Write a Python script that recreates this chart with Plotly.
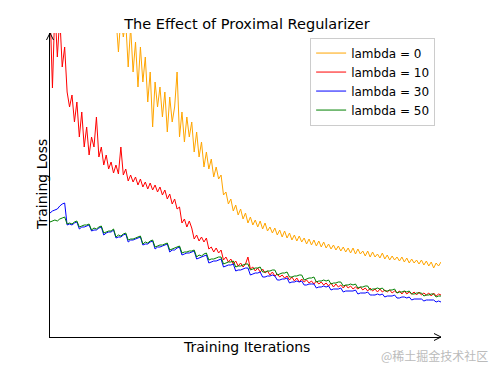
import plotly.graph_objects as go

step = 5
loss_lambda0 = [
    4.6, 4.5, 4.55, 4.4, 4.45, 4.3, 4.35, 4.2, 4.25, 4.1, 4.15, 4.0, 4.05, 3.9, 3.95, 3.8, 3.85, 3.7, 3.75, 3.6,
    3.65, 3.5, 3.55, 3.45, 3.4, 3.35, 3.3, 3.2,
    2.85, 3.2, 3.0, 3.15, 2.7, 3.1, 2.65, 2.95, 2.5, 2.9, 2.55, 2.8, 2.35, 2.65, 2.1, 2.55, 2.3, 2.5, 2.2, 2.45,
    2.05, 2.4, 2.15, 2.3, 2.65, 2.0, 2.25, 1.95, 2.2, 2.0, 2.15, 1.85, 2.05, 1.8, 1.95, 1.7, 1.85, 1.68, 1.78,
    1.6, 1.7, 1.58, 1.62, 1.42, 1.45, 1.33, 1.38, 1.26, 1.32, 1.22, 1.28, 1.18, 1.24, 1.14, 1.2, 1.12, 1.17,
    1.1, 1.16, 1.08, 1.14, 1.06, 1.1, 1.04, 1.09, 1.02, 1.07, 1.0, 1.06, 0.99, 1.04, 0.97, 1.02, 0.96, 1.01,
    0.95, 0.99, 0.93, 0.98, 0.92, 0.97, 0.91, 0.96, 0.9, 0.95, 0.89, 0.93, 0.88, 0.92, 0.87, 0.91, 0.86, 0.9,
    0.85, 0.89, 0.84, 0.89, 0.83, 0.88, 0.83, 0.86, 0.81, 0.86, 0.8, 0.85, 0.8, 0.83, 0.79, 0.84, 0.78, 0.82,
    0.77, 0.81, 0.77, 0.8, 0.76, 0.8, 0.75, 0.79, 0.74, 0.78, 0.74, 0.77, 0.73, 0.77, 0.72, 0.76, 0.71, 0.75,
    0.69, 0.74, 0.71, 0.75,
]
loss_lambda10 = [
    3.3, 2.49, 3.3, 2.8, 3.2, 2.7, 2.9, 2.45, 2.3, 2.42, 2.15, 2.35, 2.0, 2.25, 1.9, 2.1, 1.82, 2.0, 1.9, 2.2,
    1.8, 1.9, 1.72, 1.82, 1.68, 1.75, 1.64, 1.72, 1.63, 1.9, 1.62, 1.68, 1.56, 1.62, 1.55, 1.6, 1.52, 1.58,
    1.5, 1.55, 1.48, 1.54, 1.47, 1.52, 1.45, 1.5, 1.42, 1.47, 1.38, 1.43, 1.33, 1.38, 1.28, 1.3, 1.14, 1.18,
    1.1, 1.16, 1.09, 0.98, 1.02, 0.96, 1.0, 0.95, 0.99, 0.88, 0.9, 0.85, 0.89, 0.84, 0.87, 0.77, 0.8, 0.75,
    0.78, 0.73, 0.76, 0.71, 0.74, 0.7, 0.73, 0.8, 0.68, 0.7, 0.66, 0.69, 0.65, 0.68, 0.64, 0.66, 0.62, 0.65,
    0.61, 0.63, 0.6, 0.62, 0.59, 0.61, 0.57, 0.6, 0.56, 0.59, 0.55, 0.58, 0.55, 0.57, 0.54, 0.56, 0.53, 0.56,
    0.53, 0.55, 0.52, 0.54, 0.51, 0.54, 0.5, 0.53, 0.5, 0.52, 0.49, 0.52, 0.49, 0.51, 0.48, 0.5, 0.48, 0.5,
    0.47, 0.49, 0.46, 0.49, 0.46, 0.48, 0.45, 0.48, 0.45, 0.47, 0.45, 0.47, 0.44, 0.46, 0.44, 0.46, 0.43,
    0.46, 0.43, 0.45, 0.43, 0.45, 0.42, 0.45, 0.42, 0.44, 0.42, 0.44, 0.41, 0.44, 0.41, 0.43, 0.42,
]
loss_lambda30 = [
    1.24, 1.26, 1.27, 1.28, 1.31, 1.33, 1.34,
    1.12, 1.13, 1.12, 1.14, 1.15,
    1.08, 1.1, 1.1, 1.11, 1.12,
    1.06, 1.07, 1.07, 1.09, 1.1,
    1.02, 1.04, 1.05, 1.05, 1.07,
    0.99, 1.0, 1.0, 1.02, 1.03,
    0.95, 0.97, 0.97, 0.98, 0.99, 1.0,
    0.92, 0.93, 0.93, 0.95, 0.96,
    0.88, 0.9, 0.9, 0.91, 0.92, 0.93,
    0.85, 0.87, 0.87, 0.89, 0.9,
    0.82, 0.83, 0.84, 0.84, 0.85, 0.86,
    0.78, 0.79, 0.8, 0.81, 0.82,
    0.74, 0.75, 0.76, 0.76, 0.77, 0.78,
    0.7, 0.71, 0.72, 0.72, 0.73,
    0.66, 0.67, 0.67, 0.68, 0.69, 0.69,
    0.62, 0.63, 0.64, 0.64, 0.65,
    0.6, 0.6, 0.61, 0.61, 0.62, 0.61,
    0.57, 0.57, 0.58, 0.58, 0.59,
    0.54, 0.55, 0.55, 0.56, 0.55, 0.56,
    0.52, 0.52, 0.53, 0.53, 0.53,
    0.49, 0.5, 0.5, 0.51, 0.5, 0.51,
    0.47, 0.48, 0.48, 0.48, 0.49,
    0.45, 0.46, 0.46, 0.46, 0.46, 0.47,
    0.43, 0.44, 0.44, 0.44, 0.45,
    0.42, 0.42, 0.42, 0.43, 0.42, 0.43,
    0.4, 0.41, 0.41, 0.41, 0.42,
    0.39, 0.39, 0.4, 0.4, 0.39, 0.4,
    0.37, 0.38, 0.38, 0.38, 0.38,
    0.36, 0.37, 0.37, 0.37, 0.37,
    0.35, 0.36, 0.35,
]
loss_lambda50 = [
    1.15, 1.16, 1.17, 1.16, 1.18, 1.19, 1.2,
    1.13, 1.14, 1.13, 1.15, 1.16,
    1.1, 1.11, 1.12, 1.12, 1.13,
    1.07, 1.09, 1.08, 1.1, 1.11,
    1.04, 1.05, 1.06, 1.06, 1.08,
    1.0, 1.02, 1.01, 1.03, 1.04,
    0.97, 0.98, 0.98, 0.99, 1.0, 1.01,
    0.93, 0.95, 0.94, 0.96, 0.97,
    0.9, 0.91, 0.92, 0.92, 0.93, 0.94,
    0.87, 0.88, 0.89, 0.9, 0.91,
    0.84, 0.85, 0.85, 0.86, 0.86, 0.87,
    0.8, 0.82, 0.81, 0.83, 0.84,
    0.77, 0.78, 0.78, 0.79, 0.8, 0.8,
    0.73, 0.74, 0.75, 0.75, 0.76,
    0.7, 0.71, 0.71, 0.72, 0.73, 0.73,
    0.67, 0.68, 0.69, 0.69, 0.7,
    0.65, 0.65, 0.66, 0.66, 0.67, 0.67,
    0.62, 0.63, 0.64, 0.64, 0.65,
    0.6, 0.6, 0.61, 0.61, 0.62, 0.62,
    0.57, 0.58, 0.59, 0.59, 0.6,
    0.55, 0.56, 0.56, 0.57, 0.56, 0.57,
    0.53, 0.54, 0.54, 0.55, 0.55,
    0.51, 0.52, 0.52, 0.53, 0.52, 0.53,
    0.49, 0.5, 0.5, 0.51, 0.51,
    0.47, 0.48, 0.48, 0.49, 0.48, 0.49,
    0.46, 0.46, 0.47, 0.47, 0.48,
    0.44, 0.45, 0.45, 0.46, 0.45, 0.46,
    0.43, 0.43, 0.44, 0.44, 0.44,
    0.41, 0.42, 0.42, 0.43, 0.43,
    0.4, 0.41, 0.41,
]

series = [
    ("lambda = 0", loss_lambda0, "orange"),
    ("lambda = 10", loss_lambda10, "red"),
    ("lambda = 30", loss_lambda30, "blue"),
    ("lambda = 50", loss_lambda50, "green"),
]

FONT = "DejaVu Sans"
# page has an 8px body margin, so the figure is 8px smaller than the window
W, H = 492, 364
PL, PT, PR, PB = 42, 25, 59, 35
PW, PH = W - PL - PR, H - PT - PB  # 391 x 304

fig = go.Figure()
for name, vals, color in series:
    fig.add_trace(go.Scatter(
        x=[i * step for i in range(len(vals))], y=vals, mode="lines", name=name,
        line=dict(color=color, width=1),
    ))

axis_common = dict(showgrid=False, zeroline=False, showticklabels=False, ticks="",
                   showline=True, linecolor="black", linewidth=1, automargin=False)
fig.update_layout(
    width=W, height=H,
    margin=dict(l=PL, r=PR, t=PT, b=PB, autoexpand=False),
    paper_bgcolor="white", plot_bgcolor="white",
    font=dict(family=FONT, color="black"),
    title=dict(text="The Effect of Proximal Regularizer", x=(PL + 197) / W, xanchor="center",
               y=1 - 16 / H, yanchor="middle", font=dict(size=14.5, family=FONT)),
    xaxis=dict(range=[0, 800], **axis_common),
    yaxis=dict(range=[0, 3.04], **axis_common),
    legend=dict(x=0.985, xanchor="right", y=0.985, yanchor="top", bgcolor="white",
                bordercolor="#cccccc", borderwidth=1, font=dict(size=12, family=FONT),
                tracegroupgap=0, itemwidth=30),
    showlegend=True,
)

fig.add_annotation(text="Training Iterations", xref="paper", yref="paper",
                   x=196 / PW, xanchor="center", y=-10 / PH, yanchor="middle",
                   showarrow=False, font=dict(size=14, family=FONT))
fig.add_annotation(text="Training Loss", xref="paper", yref="paper", textangle=-90,
                   x=-8 / PW, xanchor="center", y=0.5, yanchor="middle",
                   showarrow=False, font=dict(size=14, family=FONT))

# axis arrowheads
ax_dx, ax_dy = 7 / PW, 3.5 / PH
ay_dx, ay_dy = 3.5 / PW, 7 / PH
fig.add_shape(type="path", xref="paper", yref="paper",
              path=f"M {1-ax_dx},{ax_dy} L 1,0 L {1-ax_dx},{-ax_dy}",
              line=dict(color="black", width=1))
fig.add_shape(type="path", xref="paper", yref="paper",
              path=f"M {-ay_dx},{1-ay_dy} L 0,1 L {ay_dx},{1-ay_dy}",
              line=dict(color="black", width=1))

fig.add_annotation(text="@稀土掘金技术社区", xref="paper", yref="paper",
                   x=440 / PW, xanchor="right", y=-18 / PH, yanchor="middle",
                   showarrow=False, font=dict(size=12, color="#bbbbbb", family="Noto Sans CJK SC"))

fig.write_html("out.html")
